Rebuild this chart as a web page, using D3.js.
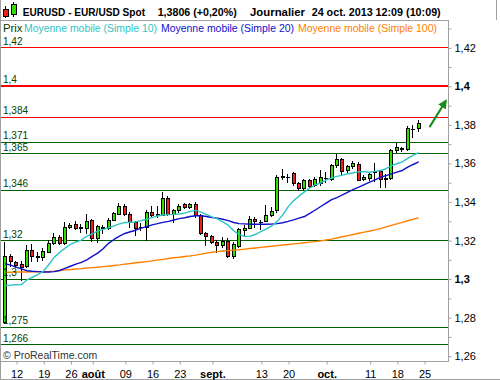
<!DOCTYPE html>
<html><head><meta charset="utf-8">
<script src="https://cdn.jsdelivr.net/npm/d3@7"></script>
<style>body{margin:0;background:#fff}svg{display:block;font-family:"Liberation Sans",Arial,sans-serif}</style>
</head><body><svg id="c" width="500" height="380"></svg>
<script>
// ---------- DATA ----------
const dates = [
"2013-07-10","2013-07-11","2013-07-12","2013-07-15","2013-07-16","2013-07-17","2013-07-18","2013-07-19","2013-07-22","2013-07-23","2013-07-24","2013-07-25","2013-07-26","2013-07-29","2013-07-30","2013-07-31",
"2013-08-01","2013-08-02","2013-08-05","2013-08-06","2013-08-07","2013-08-08","2013-08-09","2013-08-12","2013-08-13","2013-08-14","2013-08-15","2013-08-16","2013-08-19","2013-08-20","2013-08-21","2013-08-22","2013-08-23","2013-08-26","2013-08-27","2013-08-28","2013-08-29","2013-08-30",
"2013-09-02","2013-09-03","2013-09-04","2013-09-05","2013-09-06","2013-09-09","2013-09-10","2013-09-11","2013-09-12","2013-09-13","2013-09-16","2013-09-17","2013-09-18","2013-09-19","2013-09-20","2013-09-23","2013-09-24","2013-09-25","2013-09-26","2013-09-27","2013-09-30",
"2013-10-01","2013-10-02","2013-10-03","2013-10-04","2013-10-07","2013-10-08","2013-10-09","2013-10-10","2013-10-11","2013-10-14","2013-10-15","2013-10-16","2013-10-17","2013-10-18","2013-10-21","2013-10-22","2013-10-23","2013-10-24"];
const futureSlots = ["2013-10-25","2013-10-28","2013-10-29","2013-10-30","2013-10-31"];

const open = [1.2776,1.3115,1.3084,1.3075,1.3063,1.3149,1.3115,1.3111,1.3140,1.3186,1.3217,1.3186,1.3268,1.3284,1.3267,1.3265,
1.3303,1.3209,1.3267,1.3260,1.3306,1.3337,1.3379,1.3337,1.3294,1.3268,1.3268,1.3345,1.3337,1.3332,1.3419,1.3337,1.3354,1.3385,1.3374,1.3388,1.3328,1.3234,
1.3221,1.3188,1.3174,1.3197,1.3115,1.3169,1.3253,1.3265,1.3311,1.3296,1.3299,1.3332,1.3356,1.3528,1.3528,1.3550,1.3494,1.3471,1.3514,1.3488,1.3494,
1.3521,1.3519,1.3588,1.3622,1.3562,1.3582,1.3596,1.3518,1.3524,1.3559,1.3557,1.3519,1.3521,1.3668,1.3680,1.3673,1.3775,1.3779];
const high = [1.3191,1.3126,1.3092,1.3092,1.3174,1.3178,1.3140,1.3157,1.3200,1.3234,1.3226,1.3294,1.3287,1.3297,1.3285,1.3337,
1.3311,1.3280,1.3280,1.3315,1.3345,1.3391,1.3388,1.3345,1.3299,1.3289,1.3354,1.3379,1.3379,1.3451,1.3426,1.3362,1.3388,1.3391,1.3391,1.3397,1.3337,1.3243,
1.3226,1.3200,1.3217,1.3209,1.3191,1.3260,1.3280,1.3325,1.3320,1.3306,1.3383,1.3371,1.3540,1.3567,1.3545,1.3553,1.3502,1.3519,1.3519,1.3528,1.3562,
1.3553,1.3596,1.3647,1.3625,1.3588,1.3610,1.3605,1.3536,1.3553,1.3600,1.3565,1.3545,1.3671,1.3702,1.3685,1.3791,1.3796,1.3821];
const low = [1.2768,1.3067,1.3058,1.2995,1.3058,1.3089,1.3089,1.3097,1.3137,1.3181,1.3181,1.3181,1.3260,1.3256,1.3243,1.3239,
1.3197,1.3188,1.3239,1.3258,1.3303,1.3333,1.3328,1.3268,1.3226,1.3251,1.3200,1.3323,1.3320,1.3328,1.3328,1.3294,1.3345,1.3368,1.3368,1.3320,1.3231,1.3174,
1.3183,1.3140,1.3166,1.3111,1.3106,1.3162,1.3226,1.3260,1.3268,1.3256,1.3297,1.3325,1.3348,1.3519,1.3502,1.3488,1.3459,1.3459,1.3477,1.3482,1.3485,
1.3502,1.3514,1.3579,1.3545,1.3553,1.3576,1.3511,1.3511,1.3511,1.3507,1.3477,1.3473,1.3516,1.3659,1.3664,1.3668,1.3736,1.3767];
const close = [1.3115,1.3089,1.3068,1.3062,1.3149,1.3118,1.3113,1.3144,1.3186,1.3217,1.3186,1.3268,1.3280,1.3260,1.3265,1.3297,
1.3209,1.3274,1.3260,1.3306,1.3340,1.3379,1.3337,1.3294,1.3265,1.3267,1.3345,1.3328,1.3332,1.3419,1.3337,1.3354,1.3379,1.3374,1.3388,1.3328,1.3234,1.3221,
1.3191,1.3174,1.3197,1.3118,1.3179,1.3255,1.3265,1.3311,1.3297,1.3292,1.3332,1.3352,1.3528,1.3530,1.3527,1.3494,1.3471,1.3514,1.3482,1.3519,1.3528,
1.3523,1.3588,1.3622,1.3557,1.3582,1.3600,1.3514,1.3526,1.3541,1.3555,1.3519,1.3521,1.3668,1.3685,1.3671,1.3779,1.3777,1.3806];

const ma10 = [1.2964,1.2966,1.2968,1.2969,1.2993,1.3007,1.3021,1.3038,1.3072,1.3110,1.3135,1.3158,1.3177,1.3190,1.3200,1.3220,
1.3232,1.3246,1.3255,1.3263,1.3274,1.3284,1.3291,1.3292,1.3294,1.3301,1.3308,1.3316,1.3325,1.3330,1.3332,1.3333,1.3335,1.3340,1.3349,1.3354,1.3345,1.3333,
1.3320,1.3310,1.3294,1.3277,1.3248,1.3228,1.3219,1.3219,1.3230,1.3244,1.3258,1.3273,1.3297,1.3330,1.3372,1.3404,1.3428,1.3450,1.3470,1.3487,1.3496,
1.3512,1.3522,1.3530,1.3537,1.3544,1.3549,1.3554,1.3554,1.3552,1.3556,1.3561,1.3570,1.3586,1.3596,1.3606,1.3624,1.3641,1.3653];
const ma20 = [1.3077,1.3070,1.3060,1.3050,1.3041,1.3038,1.3036,1.3034,1.3034,1.3036,1.3042,1.3053,1.3064,1.3075,1.3084,1.3097,
1.3115,1.3132,1.3155,1.3183,1.3203,1.3220,1.3234,1.3243,1.3251,1.3262,1.3270,1.3279,1.3285,1.3292,1.3297,1.3304,1.3311,1.3316,1.3322,1.3326,1.3326,1.3322,
1.3317,1.3314,1.3308,1.3301,1.3291,1.3285,1.3284,1.3282,1.3282,1.3282,1.3282,1.3283,1.3285,1.3290,1.3297,1.3305,1.3314,1.3322,1.3338,1.3356,1.3374,
1.3392,1.3410,1.3420,1.3435,1.3449,1.3463,1.3475,1.3488,1.3500,1.3512,1.3526,1.3534,1.3543,1.3552,1.3561,1.3578,1.3592,1.3605];
const ma100 = [1.3033,1.3033,1.3034,1.3034,1.3034,1.3035,1.3035,1.3036,1.3037,1.3039,1.3042,1.3045,1.3047,1.3050,1.3052,1.3055,
1.3057,1.3059,1.3062,1.3064,1.3068,1.3071,1.3075,1.3078,1.3082,1.3085,1.3088,1.3092,1.3096,1.3100,1.3104,1.3108,1.3111,1.3115,1.3118,1.3122,1.3127,1.3132,
1.3137,1.3140,1.3143,1.3145,1.3148,1.3150,1.3153,1.3156,1.3159,1.3162,1.3165,1.3168,1.3171,1.3174,1.3177,1.3180,1.3183,1.3186,1.3189,1.3192,1.3196,
1.3200,1.3205,1.3211,1.3217,1.3223,1.3229,1.3235,1.3241,1.3247,1.3253,1.3259,1.3268,1.3276,1.3284,1.3292,1.3300,1.3308,1.3315];

const levelValues = [1.42,1.4,1.384,1.371,1.365,1.346,1.32,1.3,1.275,1.266];
const levelLabels = ["1,42","1,4","1,384","1,371","1,365","1,346","1,32","1,3","1,275","1,266"];
const levelKinds  = ["red","redBold","red","green","green","green","green","green","green","green"];

const xTickDates  = ["2013-07-12","2013-07-19","2013-07-26","2013-08-01","2013-08-09","2013-08-16","2013-08-23","2013-09-02","2013-09-13","2013-09-20","2013-10-01","2013-10-11","2013-10-18","2013-10-25"];
const xTickLabels = ["12","19","26","août","09","16","23","sept.","13","20","oct.","11","18","25"];
const xTickBold   = [false,false,false,true,false,false,false,true,false,false,true,false,false,false];

const yTickValues = [1.26,1.27,1.28,1.29,1.30,1.31,1.32,1.33,1.34,1.35,1.36,1.37,1.38,1.39,1.40,1.41,1.42,1.43];
const yLabelValues = [1.26,1.28,1.30,1.32,1.34,1.36,1.38,1.40,1.42];
const yLabelTexts  = ["1,26","1,28","1,3","1,32","1,34","1,36","1,38","1,4","1,42"];
const yLabelBold   = [false,false,true,false,false,false,false,true,false];

const arrowFrom = ["2013-10-28", 1.3786];
const arrowTo   = ["2013-10-31", 1.3922];

const headerTexts = ["EURUSD - EUR/USD Spot","1,3806 (+0,20%)","Journalier","24 oct. 2013 12:09 (10:09)"];
const legendTexts = ["Prix","Moyenne mobile (Simple 10)","Moyenne mobile (Simple 20)","Moyenne mobile (Simple 100)"];

// ---------- LAYOUT ----------
const W = 500, H = 380, PR = 448, PT = 20, PB = 361;
const GRAY = "#a0a0a0";
const C = {up:"#33dd00", down:"#ee2020", red:"#ff0000", green:"#006000", lbl:"#004000",
           ma10:"#2ec4c4", ma20:"#1010c8", ma100:"#ff8000", arrow:"#1a8a1a"};

const svg = d3.select("#c");
svg.append("rect").attr("width",W).attr("height",H).attr("fill","#fff");

const slots = dates.concat(futureSlots);
const x = d3.scalePoint().domain(slots).range([5.2, 5.2 + (slots.length-1)*5.44]);
const y = d3.scaleLinear().domain([1.26,1.42]).range([355.7,47.3]);

svg.append("defs").append("clipPath").attr("id","clip")
  .append("rect").attr("x",0).attr("y",PT).attr("width",PR).attr("height",PB-PT);
const plot = svg.append("g").attr("clip-path","url(#clip)");

// horizontal levels
levelValues.forEach((v,i)=>{
  const k = levelKinds[i];
  const yy = k==="redBold" ? Math.round(y(v)) : Math.round(y(v))+0.5;
  plot.append("line").attr("x1",0).attr("x2",PR).attr("y1",yy).attr("y2",yy)
    .attr("stroke", k==="green"?C.green:C.red).attr("stroke-width", k==="redBold"?2:1);
});

// candles
const candles = dates.map((d,i)=>({d,o:open[i],h:high[i],l:low[i],c:close[i]}));
const cg = plot.append("g");
candles.forEach(k=>{
  const X = Math.round(x(k.d));
  cg.append("line").attr("x1",X-0.5).attr("x2",X-0.5)
    .attr("y1",Math.round(y(k.h))).attr("y2",Math.round(y(k.l))+1)
    .attr("stroke","#000").attr("stroke-width",1);
  const t = Math.round(y(Math.max(k.o,k.c))), b = Math.round(y(Math.min(k.o,k.c)));
  if (b - t < 1) {
    cg.append("line").attr("x1",X-2).attr("x2",X+2).attr("y1",t+0.5).attr("y2",t+0.5)
      .attr("stroke","#000").attr("stroke-width",1);
  } else {
    cg.append("rect").attr("x",X-1.5).attr("y",t+0.5).attr("width",3).attr("height",b-t)
      .attr("fill", k.c>=k.o?C.up:C.down).attr("stroke","#000").attr("stroke-width",1);
  }
});

// moving averages
const line = d3.line().x((v,i)=>x(dates[i])).y(v=>y(v));
[[ma100,C.ma100],[ma20,C.ma20],[ma10,C.ma10]].forEach(([s,col])=>{
  plot.append("path").attr("d",line(s)).attr("fill","none").attr("stroke",col)
    .attr("stroke-width",1.4).attr("stroke-linejoin","round");
});

// level labels
levelValues.forEach((v,i)=>{
  svg.append("text").attr("x",3).attr("y",y(v)-2.5).attr("font-size","10px")
    .attr("fill",C.lbl).text(levelLabels[i]);
});

// arrow
const defs = svg.select("defs");
defs.append("marker").attr("id","ah").attr("markerUnits","userSpaceOnUse")
  .attr("viewBox","0 0 10 10").attr("refX",8).attr("refY",5)
  .attr("markerWidth",9).attr("markerHeight",9).attr("orient","auto")
  .append("path").attr("d","M0,0L10,5L0,10Z").attr("fill",C.arrow);
svg.append("line").attr("x1",x(arrowFrom[0])).attr("y1",y(arrowFrom[1]))
  .attr("x2",x(arrowTo[0])).attr("y2",y(arrowTo[1]))
  .attr("stroke",C.arrow).attr("stroke-width",2).attr("marker-end","url(#ah)");

// copyright
svg.append("text").attr("x",3).attr("y",358.5).attr("font-size","10.5px").attr("fill","#333")
  .text("\u00a9 ProRealTime.com");

// frame
svg.append("line").attr("x1",0.5).attr("x2",0.5).attr("y1",0).attr("y2",H).attr("stroke",GRAY);
svg.append("line").attr("x1",0).attr("x2",PR).attr("y1",PT+0.5).attr("y2",PT+0.5).attr("stroke",GRAY);
svg.append("line").attr("x1",0).attr("x2",PR).attr("y1",PB+0.5).attr("y2",PB+0.5).attr("stroke",GRAY);
svg.append("line").attr("x1",PR+0.5).attr("x2",PR+0.5).attr("y1",PT).attr("y2",PB+1).attr("stroke",GRAY);
svg.append("line").attr("x1",496.5).attr("x2",496.5).attr("y1",0).attr("y2",PT).attr("stroke",GRAY);
svg.append("line").attr("x1",0).attr("x2",W).attr("y1",H-0.5).attr("y2",H-0.5).attr("stroke",GRAY);

// right axis
const yAxis = d3.axisRight(y).tickValues(yTickValues).tickSize(3).tickPadding(3)
  .tickFormat(v=>{const j=yLabelValues.findIndex(u=>Math.abs(u-v)<1e-9); return j>=0?yLabelTexts[j]:"";});
const ya = svg.append("g").attr("transform",`translate(${PR+0.5},0.5)`).call(yAxis);
ya.select(".domain").remove();
ya.selectAll(".tick line").attr("stroke",GRAY);
ya.selectAll(".tick text").attr("font-family",null).attr("font-size","11px").attr("fill","#000")
  .attr("font-weight",v=>{const j=yLabelValues.findIndex(u=>Math.abs(u-v)<1e-9); return j>=0&&yLabelBold[j]?"bold":"normal";});

// bottom axis
const xAxis = d3.axisBottom(x).tickValues(xTickDates).tickSize(3).tickPadding(6)
  .tickFormat(d=>xTickLabels[xTickDates.indexOf(d)]);
const xa = svg.append("g").attr("transform",`translate(0.5,${PB+0.5})`).call(xAxis);
xa.select(".domain").remove();
xa.selectAll(".tick line").attr("stroke",GRAY);
xa.selectAll(".tick text").attr("font-family",null).attr("font-size","11px").attr("fill","#000")
  .attr("font-weight",d=>xTickBold[xTickDates.indexOf(d)]?"bold":"normal");

// header icon
const ic = svg.append("g");
ic.append("line").attr("x1",5.5).attr("x2",5.5).attr("y1",6).attr("y2",18).attr("stroke","#000");
ic.append("rect").attr("x",3.5).attr("y",9.5).attr("width",5).attr("height",7).attr("fill",C.down).attr("stroke","#000");
ic.append("line").attr("x1",13.5).attr("x2",13.5).attr("y1",2).attr("y2",17).attr("stroke","#000");
ic.append("rect").attr("x",11.5).attr("y",4.5).attr("width",5).attr("height",10).attr("fill",C.up).attr("stroke","#000");

// header texts
const hx = [22.7,157.7,250,311.7], hw = [122.3,79,55,129];
headerTexts.forEach((t,i)=>{
  svg.append("text").attr("x",hx[i]).attr("y",15.7).attr("font-size","11.5px").attr("font-weight","bold")
    .attr("fill","#000").attr("textLength",hw[i]).attr("lengthAdjust","spacingAndGlyphs").text(t);
});

// legend
const lx = [3,24,161,298], lw=[19.5,133,133,139], lc=[C.lbl,C.ma10,C.ma20,C.ma100];
legendTexts.forEach((t,i)=>{
  svg.append("text").attr("x",lx[i]).attr("y",31.5).attr("font-size","11px")
    .attr("fill",lc[i]).attr("textLength",lw[i]).attr("lengthAdjust","spacingAndGlyphs").text(t);
});
</script></body></html>
